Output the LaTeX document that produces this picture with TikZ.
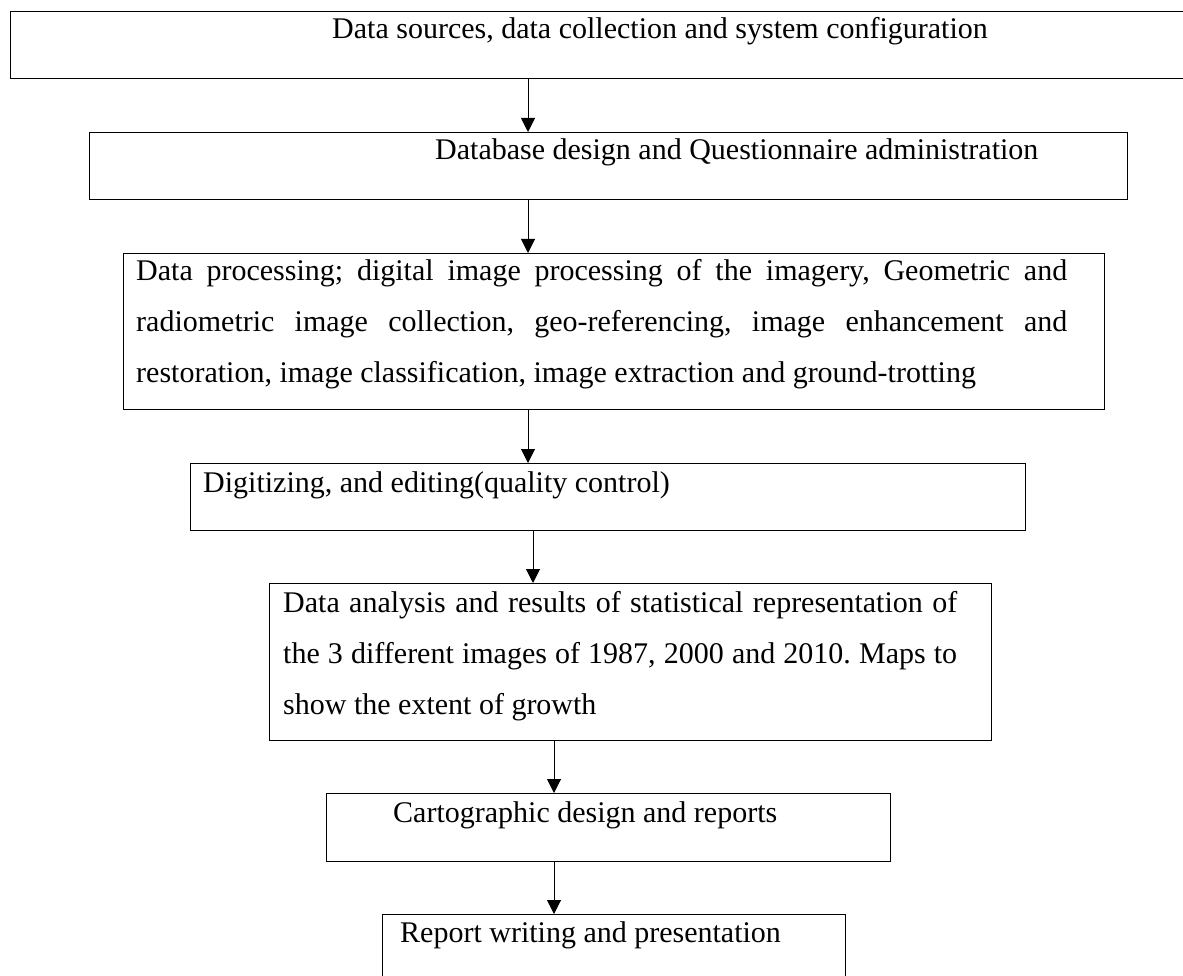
\documentclass[tikz,border=0pt]{standalone}
\usepackage{fontspec}
\setmainfont{Liberation Serif}
\usetikzlibrary{arrows.meta}
\frenchspacing
\begin{document}
\begin{tikzpicture}[x=1pt,y=-1pt,
  box/.style={draw, line width=1.4pt, rectangle, inner sep=0pt, anchor=north west},
  lbl/.style={inner sep=0pt, anchor=base west, font=\fontsize{30}{51}\selectfont},
  arr/.style={line width=1pt, -{Triangle[width=14pt,length=14pt]}}]
\useasboundingbox (0,0) rectangle (1183,976);
\clip (0,0) rectangle (1183,976);
\tolerance=10000 \hyphenpenalty=10000
% boxes
\node[box, minimum width=1200pt, minimum height=67pt] (b1) at (10,11) {};
\node[box, minimum width=1038pt, minimum height=67pt] (b2) at (89,132) {};
\node[box, minimum width=981pt, minimum height=156pt] (b3) at (123,253) {};
\node[box, minimum width=835pt, minimum height=67pt] (b4) at (190,463) {};
\node[box, minimum width=722pt, minimum height=157pt] (b5) at (269,583) {};
\node[box, minimum width=564pt, minimum height=68pt] (b6) at (326,793) {};
\node[box, minimum width=463pt, minimum height=72pt] (b7) at (382,914) {};
% texts
\node[lbl] (t1) at (332,39) {Data sources, data collection and system configuration};
\node[lbl] (t2) at (435,160) {Database design and Questionnaire administration};
\node[lbl] (t3) at (136,281) {\parbox[t]{931pt}{\fontsize{30}{51}\selectfont Data processing; digital image processing of the imagery, Geometric and\linebreak radiometric image collection, geo-referencing, image enhancement and\linebreak restoration, image classification, image extraction and ground-trotting}};
\node[lbl] (t4) at (203,492) {Digitizing, and editing(quality control)};
\node[lbl] (t5) at (283,612) {\parbox[t]{674pt}{\fontsize{30}{51}\selectfont Data analysis and results of statistical representation of\linebreak the 3 different images of 1987, 2000 and 2010. Maps to\linebreak show the extent of growth}};
\node[lbl] (t6) at (393,822) {Cartographic design and reports};
\node[lbl] (t7) at (400,942) {Report writing and presentation};
% arrow x positions
\coordinate (xa) at (528,0);
\coordinate (xb) at (533,0);
\coordinate (xc) at (554,0);
\draw[arr] (b1.south -| xa) -- (b2.north -| xa);
\draw[arr] (b2.south -| xa) -- (b3.north -| xa);
\draw[arr] (b3.south -| xa) -- (b4.north -| xa);
\draw[arr] (b4.south -| xb) -- (b5.north -| xb);
\draw[arr] (b5.south -| xc) -- (b6.north -| xc);
\draw[arr] (b6.south -| xc) -- (b7.north -| xc);
\end{tikzpicture}
\end{document}
